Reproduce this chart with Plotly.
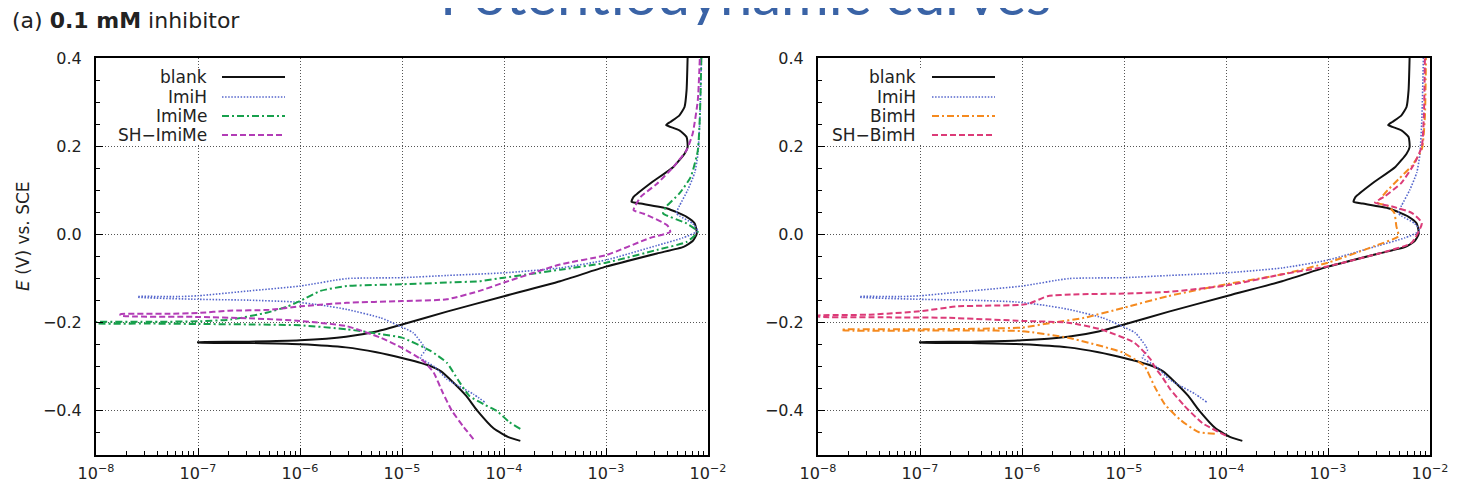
import plotly.graph_objects as go

W, H = 1463, 488
OFF = 8  # page body margin offset of the plot div

# ---------------- data (log10 of current density, potential E in V vs SCE) ----------------
blank_logi = [-3.84, -3.95, -4.10, -4.26, -4.37, -4.50, -4.62, -4.75, -5.00, -5.25,
              -5.55, -6.00, -6.50, -7.00, -7.00, -6.50, -6.00, -5.55, -5.25, -5.00,
              -4.56, -4.00, -3.45, -3.00, -2.50, -2.24, -2.15, -2.11, -2.13, -2.21,
              -2.40, -2.66, -2.75, -2.73, -2.57, -2.34, -2.23, -2.20, -2.21, -2.28,
              -2.37, -2.41, -2.37, -2.28, -2.23, -2.21, -2.20]
blank_E = [-0.468, -0.460, -0.440, -0.400, -0.366, -0.335, -0.310, -0.296, -0.280, -0.267,
           -0.256, -0.249, -0.246, -0.245, -0.244, -0.243, -0.240, -0.232, -0.220, -0.204,
           -0.175, -0.140, -0.106, -0.073, -0.043, -0.028, -0.015, 0.002, 0.025, 0.040,
           0.059, 0.070, 0.074, 0.085, 0.115, 0.153, 0.183, 0.198, 0.221, 0.236,
           0.244, 0.248, 0.255, 0.270, 0.289, 0.327, 0.400]

imih_logi = [-4.19, -4.30, -4.45, -4.56, -4.68, -4.82, -4.77, -4.79, -4.89, -5.05,
             -5.21, -5.54, -5.80, -6.06, -6.50, -7.00, -7.59, -7.59, -7.20, -7.00,
             -6.50, -6.00, -5.54, -5.00, -4.56, -4.00, -3.45, -3.00, -2.50, -2.25,
             -2.10, -2.15, -2.28, -2.31, -2.28, -2.20, -2.13, -2.10, -2.08, -2.065]
imih_E = [-0.380, -0.362, -0.343, -0.328, -0.300, -0.279, -0.262, -0.252, -0.223, -0.205,
          -0.189, -0.170, -0.160, -0.153, -0.149, -0.147, -0.142, -0.141, -0.141, -0.139,
          -0.128, -0.117, -0.100, -0.098, -0.093, -0.087, -0.076, -0.058, -0.025, -0.008,
          0.008, 0.025, 0.042, 0.048, 0.065, 0.100, 0.140, 0.180, 0.260, 0.400]

imime_logi = [-3.84, -3.95, -4.07, -4.20, -4.34, -4.45, -4.56, -4.72, -5.00, -5.21,
              -5.54, -6.00, -6.50, -7.00, -7.50, -8.00, -8.00, -7.50, -7.00, -6.68,
              -6.32, -6.13, -6.00, -5.80, -5.54, -5.00, -4.56, -4.24, -4.00, -3.45,
              -3.00, -2.50, -2.21, -2.10, -2.21, -2.44, -2.41, -2.28, -2.17, -2.10,
              -2.08, -2.065]
imime_E = [-0.441, -0.425, -0.400, -0.385, -0.366, -0.330, -0.291, -0.264, -0.234, -0.226,
           -0.215, -0.206, -0.204, -0.203, -0.202, -0.201, -0.199, -0.198, -0.197, -0.193,
           -0.177, -0.164, -0.151, -0.128, -0.117, -0.113, -0.109, -0.106, -0.098, -0.080,
           -0.064, -0.035, -0.017, 0.006, 0.025, 0.048, 0.063, 0.093, 0.130, 0.190,
           0.266, 0.400]

shimime_logi = [-4.30, -4.40, -4.51, -4.60, -4.69, -4.79, -5.00, -5.21, -5.54, -6.00,
                -6.50, -7.00, -7.76, -7.76, -7.30, -7.00, -6.70, -6.30, -6.00, -5.54,
                -5.00, -4.56, -4.24, -4.00, -3.45, -3.00, -2.57, -2.37, -2.40, -2.63,
                -2.73, -2.66, -2.50, -2.34, -2.21, -2.15, -2.10, -2.08]
shimime_E = [-0.464, -0.435, -0.400, -0.359, -0.313, -0.287, -0.257, -0.234, -0.208, -0.196,
             -0.190, -0.187, -0.184, -0.181, -0.180, -0.178, -0.173, -0.171, -0.163, -0.155,
             -0.151, -0.147, -0.128, -0.109, -0.068, -0.047, -0.008, 0.006, 0.021, 0.047,
             0.055, 0.085, 0.115, 0.153, 0.191, 0.229, 0.304, 0.400]

bimh_logi = [-4.11, -4.27, -4.45, -4.60, -4.70, -4.77, -4.80, -5.01, -5.55, -6.01,
             -6.50, -7.00, -7.77, -7.77, -7.00, -6.50, -6.00, -5.70, -5.39, -5.00,
             -4.57, -4.00, -3.46, -3.00, -2.54, -2.31, -2.33, -2.35, -2.41, -2.51,
             -2.44, -2.31, -2.18, -2.08, -2.05, -2.04]
bimh_E = [-0.452, -0.448, -0.420, -0.385, -0.345, -0.310, -0.298, -0.268, -0.234, -0.219,
          -0.218, -0.218, -0.217, -0.216, -0.215, -0.214, -0.211, -0.200, -0.189, -0.166,
          -0.140, -0.113, -0.091, -0.064, -0.026, -0.004, 0.019, 0.049, 0.064, 0.072,
          0.094, 0.125, 0.155, 0.193, 0.268, 0.400]

shbimh_logi = [-4.00, -4.23, -4.41, -4.55, -4.62, -4.70, -4.74, -4.90, -5.23, -5.55,
               -6.00, -6.73, -7.30, -8.00, -8.00, -7.50, -7.00, -6.63, -5.95, -5.75,
               -5.50, -5.00, -4.56, -4.00, -3.46, -3.00, -2.48, -2.18, -2.08, -2.18,
               -2.38, -2.54, -2.44, -2.28, -2.15, -2.08, -2.06, -2.05]
shbimh_E = [-0.456, -0.428, -0.388, -0.350, -0.325, -0.300, -0.283, -0.245, -0.215, -0.200,
            -0.196, -0.189, -0.188, -0.186, -0.184, -0.182, -0.174, -0.163, -0.158, -0.140,
            -0.136, -0.134, -0.130, -0.116, -0.091, -0.072, -0.042, -0.019, 0.026, 0.049,
            0.064, 0.072, 0.087, 0.117, 0.162, 0.200, 0.268, 0.400]

x_tick_vals = [1e-8, 1e-7, 1e-6, 1e-5, 1e-4, 1e-3, 1e-2]
x_tick_text = ["10<sup>\u22128</sup>", "10<sup>\u22127</sup>", "10<sup>\u22126</sup>",
               "10<sup>\u22125</sup>", "10<sup>\u22124</sup>", "10<sup>\u22123</sup>",
               "10<sup>\u22122</sup>"]
y_tick_vals = [0.4, 0.2, 0.0, -0.2, -0.4]
y_tick_text = ["0.4", "0.2", "0.0", "\u22120.2", "\u22120.4"]

left_names = ["blank", "ImiH", "ImiMe", "SH\u2212ImiMe"]
right_names = ["blank", "ImiH", "BimH", "SH\u2212BimH"]

# ---------------- styles ----------------
STY = {
    "blank": dict(color="#111111", width=2.0, dash="solid"),
    "ImiH": dict(color="#5566CC", width=1.6, dash="1.5px,1.6px"),
    "ImiMe": dict(color="#17A04C", width=2.0, dash="7px,3px,2px,3px"),
    "SH\u2212ImiMe": dict(color="#B23CB6", width=2.0, dash="6px,3px"),
    "BimH": dict(color="#F58A1F", width=2.0, dash="7px,3px,2px,3px"),
    "SH\u2212BimH": dict(color="#DC3B78", width=2.0, dash="6px,3px"),
}

series = {
    "blank": (blank_logi, blank_E),
    "ImiH": (imih_logi, imih_E),
    "ImiMe": (imime_logi, imime_E),
    "SH\u2212ImiMe": (shimime_logi, shimime_E),
    "BimH": (bimh_logi, bimh_E),
    "SH\u2212BimH": (shbimh_logi, shbimh_E),
}

fig = go.Figure()


def add(name, xa, ya):
    lg, e = series[name]
    assert len(lg) == len(e), name
    cur = [10 ** v for v in lg]
    s = STY[name]
    fig.add_trace(go.Scatter(x=cur, y=e, mode="lines", name=name, showlegend=False,
                             xaxis=xa, yaxis=ya, hoverinfo="skip",
                             line=dict(color=s["color"], width=s["width"], dash=s["dash"],
                                       shape="spline", smoothing=0.5)))


for n in left_names:
    add(n, "x", "y")
for n in right_names:
    add(n, "x2", "y2")


# reference-pixel -> paper helpers (accounting for page offset)
def px(v):
    return (v - OFF) / W


def py(v):
    return 1 - (v - OFF) / H


# ---------------- layout ----------------
FONT = "DejaVu Sans"
ydom = [py(455), py(58)]
xdomL = [px(96), px(708)]
xdomR = [px(818), px(1430)]


def xaxis(domain, anchor):
    return dict(type="log", range=[-8, -2], domain=domain, anchor=anchor,
                tickmode="array", tickvals=x_tick_vals, ticktext=x_tick_text,
                ticks="inside", ticklen=7, tickwidth=1.3, tickcolor="black",
                showline=True, linecolor="black", linewidth=2, mirror=True,
                showgrid=True, gridcolor="#555555", griddash="1px,2px", gridwidth=1,
                minor=dict(ticks="inside", ticklen=4, tickwidth=1, tickcolor="black",
                           dtick="D1", showgrid=False),
                tickfont=dict(family=FONT, size=16, color="#222222"),
                zeroline=False, ticklabelstandoff=3, automargin=False, fixedrange=True)


def yaxis(anchor):
    return dict(range=[-0.5, 0.4], domain=ydom, anchor=anchor,
                tickmode="array", tickvals=y_tick_vals, ticktext=y_tick_text,
                ticks="inside", ticklen=7, tickwidth=1.3, tickcolor="black",
                showline=True, linecolor="black", linewidth=2, mirror=True,
                showgrid=True, gridcolor="#555555", griddash="1px,2px", gridwidth=1,
                minor=dict(ticks="inside", ticklen=4, tickwidth=1, tickcolor="black",
                           tick0=0, dtick=0.05, showgrid=False),
                tickfont=dict(family=FONT, size=16, color="#222222"),
                zeroline=False, ticklabelstandoff=9, automargin=False, fixedrange=True)


annotations = [
    dict(text="Potentiodynamic curves", x=px(746), y=py(29), xref="paper", yref="paper",
         xanchor="center", yanchor="bottom", showarrow=False,
         font=dict(family="Lato", size=58, color="#3A63A6")),
    dict(text="(a) <b>0.1 mM</b> inhibitor", x=px(10), y=py(20), xref="paper", yref="paper",
         xanchor="left", yanchor="middle", showarrow=False,
         font=dict(family=FONT, size=22, color="#222222")),
    dict(text="<i>E</i> (V) vs. SCE", x=px(23), y=py(236), xref="paper", yref="paper",
         xanchor="center", yanchor="middle", showarrow=False, textangle=-90,
         font=dict(family=FONT, size=17, color="#222222")),
]

shapes = []
rows = [77, 97, 116, 135]
legend_specs = [
    (left_names, 100, 292, 209, 222, 285),
    (right_names, 822, 1000, 918, 932, 995),
]
for names, bx0, bx1, lab_r, s0, s1 in legend_specs:
    shapes.append(dict(type="rect", xref="paper", yref="paper", layer="above",
                       x0=px(bx0), x1=px(bx1), y0=py(143), y1=py(68),
                       fillcolor="white", line=dict(width=0)))
    for n, r in zip(names, rows):
        s = STY[n]
        shapes.append(dict(type="line", xref="paper", yref="paper", layer="above",
                           x0=px(s0), x1=px(s1), y0=py(r), y1=py(r),
                           line=dict(color=s["color"], width=s["width"], dash=s["dash"])))
        annotations.append(dict(text=n, x=px(lab_r), y=py(r), xref="paper", yref="paper",
                                xanchor="right", yanchor="middle", showarrow=False,
                                font=dict(family=FONT, size=17, color="#222222")))

fig.update_layout(
    width=W, height=H, autosize=False,
    margin=dict(l=0, r=0, t=0, b=0, pad=0),
    paper_bgcolor="white", plot_bgcolor="white",
    xaxis=xaxis(xdomL, "y"), yaxis=yaxis("x"),
    xaxis2=xaxis(xdomR, "y2"), yaxis2=yaxis("x2"),
    annotations=annotations, shapes=shapes,
    showlegend=False,
)

fig.write_html("out.html", config={"displayModeBar": False})
